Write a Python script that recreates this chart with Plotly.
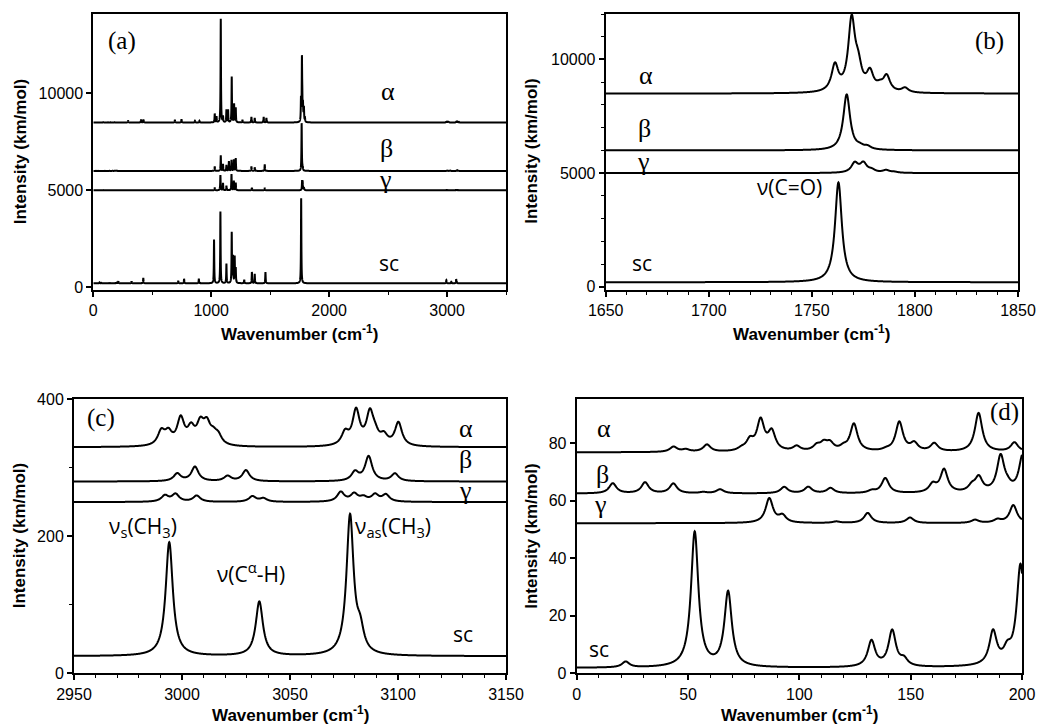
import numpy as np
import plotly.graph_objects as go

# ---------------- data: peak positions (cm-1) and intensities (km/mol) ----------------
ALPHA_POS = [43.5, 49.0, 58.5, 74.0, 77.8, 82.6, 87.6, 98.8, 107.8, 111.0, 113.8, 119.8, 124.5, 139.0,
             144.9, 151.6, 160.6, 180.5, 196.6,
             295, 405, 425, 692, 748, 862, 900,
             1030, 1045, 1081, 1100, 1129, 1143, 1174, 1194, 1208, 1265, 1341, 1369, 1445, 1468,
             1761.2, 1769.3, 1772.5, 1778.2, 1783.0, 1786.3, 1795.2,
             2990.4, 2993.7, 2999.4, 3004.2, 3008.5, 3011.5, 3014.5, 3016.8,
             3075.5, 3080.6, 3087.0, 3089.4, 3093.5, 3100.2]
ALPHA_INT = [1.8, 0.8, 2.5, 0.8, 3.5, 10.5, 6.5, 1.7, 1.8, 2.5, 2.5, 1.2, 9.5, 0.5,
             10.2, 2.7, 2.8, 13.5, 3.2,
             100, 150, 150, 130, 170, 80, 80,
             450, 300, 5350, 300, 650, 650, 2350, 950, 750, 130, 280, 230, 280, 230,
             1150, 3100, 900, 800, 200, 680, 200,
             20, 17, 38, 22, 28, 27, 12, 12,
             18, 50, 45, 12, 13, 34]

BETA_POS = [16.2, 30.7, 43.4, 56.8, 64.4, 93.2, 104.0, 114.0, 132.5, 138.6, 159.9, 165.0, 177.5, 180.6,
            190.4, 193.5, 200.3,
            1030, 1081, 1100, 1129, 1150, 1172, 1192, 1208, 1341, 1369, 1454,
            1766.9, 1773.4, 1777.0,
            2997.8, 3006.0, 3021.1, 3029.6, 3080.1, 3086.4, 3098.6]
BETA_INT = [3.5, 3.8, 3.4, 0.4, 1.4, 2.2, 2.2, 1.8, 0.8, 5.2, 2.8, 8.0, 2.0, 5.0,
            12.5, 1.5, 13.0,
            230, 800, 350, 300, 500, 560, 580, 650, 230, 180, 330,
            2450, 100, 120,
            11, 21, 7.5, 16, 13, 36, 11]

GAMMA_POS = [86.5, 92.4, 116.6, 130.7, 149.7, 178.9, 189.0, 196.1,
             1030, 1078, 1100, 1129, 1172, 1192, 1208, 1345, 1454,
             1770.8, 1775.0, 1779.0, 1786.0, 1790.0,
             2992.1, 2997.0, 3006.8, 3032.6, 3037.7, 3073.5, 3079.7, 3084.0, 3089.4, 3094.4]
GAMMA_INT = [8.5, 2.4, 0.5, 3.5, 1.9, 1.1, 1.1, 6.2,
             130, 780, 380, 230, 830, 480, 380, 130, 130,
             420, 410, 110, 110, 40,
             9, 11, 9, 8, 5, 14, 11, 6, 10, 10]

SC_POS = [22.0, 53.0, 68.0, 132.4, 141.7, 147.0, 187.0, 193.4, 199.3,
          212, 325, 424, 720, 770, 895,
          1024, 1078, 1129, 1174, 1185, 1199, 1208, 1280, 1345, 1369, 1460,
          1762.9,
          2994.1, 3035.8, 3077.8, 3082.5]
SC_INT = [2.0, 47, 26, 9, 12.5, 2.3, 11.5, 4, 33,
          100, 100, 280, 130, 230, 230,
          2250, 3700, 1000, 2600, 1350, 1350, 750, 180, 580, 480, 580,
          4390,
          166, 79, 203, 30]

CONFORMERS = ["α", "β", "γ", "sc"]
PEAKS = {"α": (ALPHA_POS, ALPHA_INT), "β": (BETA_POS, BETA_INT),
         "γ": (GAMMA_POS, GAMMA_INT), "sc": (SC_POS, SC_INT)}
HWHM = 2.0  # Lorentzian half width (cm-1)

# vertical offsets of each spectrum, per panel
OFFSETS_A = {"α": 8500, "β": 6000, "γ": 5000, "sc": 200}
OFFSETS_B = {"α": 8500, "β": 6000, "γ": 5000, "sc": 200}
OFFSETS_C = {"α": 330, "β": 280, "γ": 250, "sc": 25}
OFFSETS_D = {"α": 76.8, "β": 62.5, "γ": 52.2, "sc": 1.8}

W, H = 1039, 725


def spectrum(pos, inten, x):
    p = np.asarray(pos, float)[None, :]
    a = np.asarray(inten, float)[None, :]
    xx = np.asarray(x, float)[:, None]
    return (a * HWHM ** 2 / ((xx - p) ** 2 + HWHM ** 2)).sum(axis=1)


def grid(lo, hi, step, extra):
    g = np.arange(lo, hi + step / 2, step)
    e = np.array([v for v in extra if lo <= v <= hi])
    return np.union1d(g, e)


def px_x(px):
    return px / W


def px_y(py):
    return 1 - py / H


panels = [
    ("a", "x", "y", (0, 3500), 0.5, OFFSETS_A),
    ("b", "x2", "y2", (1650, 1850), 0.1, OFFSETS_B),
    ("c", "x3", "y3", (2950, 3150), 0.1, OFFSETS_C),
    ("d", "x4", "y4", (0, 200), 0.1, OFFSETS_D),
]

fig = go.Figure()
for name, xa, ya, (lo, hi), step, offs in panels:
    for c in CONFORMERS:
        pos, inten = PEAKS[c]
        x = grid(lo, hi, step, pos)
        y = spectrum(pos, inten, x) + offs[c]
        fig.add_trace(go.Scatter(x=x, y=y, mode="lines", xaxis=xa, yaxis=ya,
                                 line=dict(color="black", width=2, simplify=False),
                                 hoverinfo="skip", showlegend=False))

TICKFONT = dict(family="Liberation Sans, Arial, sans-serif", size=16, color="black")


def axis(domain, rng, dtick, minor, anchor):
    d = dict(domain=domain, range=list(rng), dtick=dtick, tick0=0, showline=True, linewidth=2,
             linecolor="black", mirror=True, ticks="outside", ticklen=5, tickwidth=1.5,
             tickcolor="black", showgrid=False, zeroline=False, tickfont=TICKFONT,
             tickformat="d", anchor=anchor, fixedrange=True, automargin=False)
    if minor:
        d["minor"] = dict(dtick=minor, ticks="outside", ticklen=3, tickwidth=1.2,
                          tickcolor="black", showgrid=False)
    return d


# plot-area pixel boxes: left, right, top, bottom
BOX_A = (93.3, 506.0, 14.0, 289.5)
BOX_B = (605.7, 1018.0, 14.0, 289.5)
BOX_C = (74.0, 506.0, 399.3, 673.3)
BOX_D = (576.7, 1022.0, 399.3, 673.3)


def dom(box):
    l, r, t, b = box
    return [px_x(l), px_x(r)], [px_y(b), px_y(t)]


dxa, dya = dom(BOX_A)
dxb, dyb = dom(BOX_B)
dxc, dyc = dom(BOX_C)
dxd, dyd = dom(BOX_D)

fig.update_layout(
    template="none",
    width=W, height=H, autosize=False, margin=dict(l=0, r=0, t=0, b=0, pad=0),
    paper_bgcolor="white", plot_bgcolor="white", showlegend=False,
    xaxis=axis(dxa, (0, 3500), 1000, 500, "y"),
    yaxis=axis(dya, (-120, 14100), 5000, None, "x"),
    xaxis2=axis(dxb, (1650, 1850), 50, 10, "y2"),
    yaxis2=axis(dyb, (-120, 12000), 5000, 1000, "x2"),
    xaxis3=axis(dxc, (2950, 3150), 50, 10, "y3"),
    yaxis3=axis(dyc, (0, 400), 200, 100, "x3"),
    xaxis4=axis(dxd, (0, 200), 50, 10, "y4"),
    yaxis4=axis(dyd, (0, 95.3), 20, None, "x4"),
)

SERIF = "Liberation Serif, DejaVu Serif, serif"
SANS = "Open Sans, Noto Sans, sans-serif"
TITLE = dict(family="Liberation Sans, Arial, sans-serif", size=17, color="black", weight="bold")

# text labels: text, x px, y px, family, size
LABELS = [
    ("(a)", 122, 41, SERIF, 25), ("α", 387.5, 91.5, SERIF, 26), ("β", 386, 148, SERIF, 26),
    ("γ", 385, 179, SERIF, 26), ("sc", 389, 263, SANS, 21),
    ("(b)", 989, 41, SERIF, 25), ("α", 645.7, 75.5, SERIF, 26), ("β", 644, 128, SERIF, 26),
    ("γ", 643, 161, SERIF, 26), ("ν(C=O)", 789, 187, SANS, 21), ("sc", 642, 263, SANS, 21),
    ("(c)", 100.8, 418, SERIF, 25), ("α", 466, 428, SERIF, 26), ("β", 465.5, 459, SERIF, 26),
    ("γ", 465.5, 490, SERIF, 26), ("sc", 462.7, 634, SANS, 21),
    ("ν<sub>s</sub>(CH<sub>3</sub>)", 143, 527, SANS, 21),
    ("ν(C<sup>α</sup>-H)", 250.5, 572, SANS, 21),
    ("ν<sub>as</sub>(CH<sub>3</sub>)", 392.8, 527, SANS, 21),
    ("(d)", 1004.7, 412, SERIF, 25), ("α", 603.5, 428, SERIF, 26), ("β", 602, 474, SERIF, 26),
    ("γ", 600, 504, SERIF, 26), ("sc", 599, 649, SANS, 21),
]

annotations = []
for text, x, y, fam, size in LABELS:
    annotations.append(dict(text=text, x=px_x(x), y=px_y(y), xref="paper", yref="paper",
                            xanchor="center", yanchor="middle", showarrow=False,
                            font=dict(family=fam, size=size, color="black")))

XTITLE = "Wavenumber (cm<sup>-1</sup>)"
YTITLE = "Intensity (km/mol)"
for box, ty in ((BOX_A, 333), (BOX_B, 333), (BOX_C, 714), (BOX_D, 714)):
    annotations.append(dict(text=XTITLE, x=px_x((box[0] + box[1]) / 2), y=px_y(ty),
                            xref="paper", yref="paper", xanchor="center", yanchor="middle",
                            showarrow=False, font=TITLE))
for box, tx in ((BOX_A, 20.5), (BOX_B, 532), (BOX_C, 19), (BOX_D, 531.5)):
    annotations.append(dict(text=YTITLE, x=px_x(tx), y=px_y((box[2] + box[3]) / 2),
                            xref="paper", yref="paper", xanchor="center", yanchor="middle",
                            textangle=-90, showarrow=False, font=TITLE))

fig.update_layout(annotations=annotations)
# remove the browser's default 8px body margin so the figure sits at the window's top-left
fig.write_html("out.html", config={"displayModeBar": False, "responsive": False},
               post_script="document.body.style.margin='0';")
